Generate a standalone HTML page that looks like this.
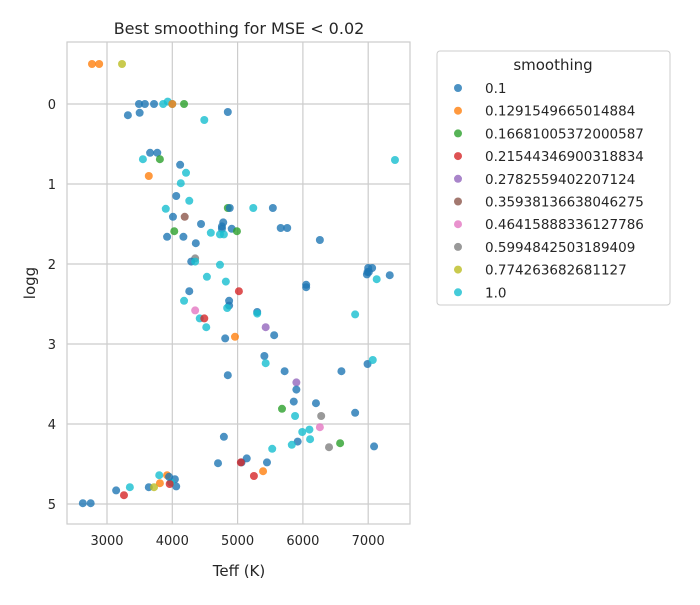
<!DOCTYPE html>
<html><head><meta charset="utf-8"><style>
body{margin:0;background:#fff;font-family:"Liberation Sans","DejaVu Sans",sans-serif}
svg text{font-family:"DejaVu Sans","Liberation Sans",sans-serif;fill:#262626}
</style></head><body>
<svg id="chart" width="700" height="600" viewBox="0 0 700 600" xmlns="http://www.w3.org/2000/svg">
<rect x="67" y="42" width="343" height="482" fill="#fff" stroke="#cccccc" stroke-width="1.2"/>
<g id="grid"></g><g id="pts"></g><g id="ticks"></g>
<text x="239" y="34" text-anchor="middle" font-size="16">Best smoothing for MSE &lt; 0.02</text>
<text x="239" y="576" text-anchor="middle" font-size="15">Teff (K)</text>
<text x="35" y="283" text-anchor="middle" font-size="15" transform="rotate(-90 35 283)">logg</text>
<g>
<rect x="437" y="51" width="233" height="254" rx="3" fill="#fff" stroke="#cccccc"/>
<text x="553" y="70" text-anchor="middle" font-size="15">smoothing</text>
<g id="leg"></g></g>
</svg>
<script>
const groups=["0.1","0.1291549665014884","0.16681005372000587","0.21544346900318834","0.2782559402207124","0.35938136638046275","0.46415888336127786","0.5994842503189409","0.774263682681127","1.0"];
const colors=["#1f77b4","#ff7f0e","#2ca02c","#d62728","#9467bd","#8c564b","#e377c2","#7f7f7f","#bcbd22","#17becf"];
const xTicks=[3000,4000,5000,6000,7000];
const yTicks=[0,1,2,3,4,5];
const teff=[2770,2880,3230,3490,3580,3720,3860,3930,4000,4000,4180,3320,3500,4850,4490,3660,3770,3550,3810,4120,4210,3640,4130,4060,4260,3900,4010,4190,4440,4850,4880,5240,5540,3920,4170,4030,4360,4590,4780,4760,4760,4730,4790,4910,4990,5660,5760,6260,4350,4290,4350,4730,4530,4820,6050,6050,7000,6990,7010,6980,7060,7130,7330,7410,5020,4260,4180,4870,4870,4840,
4350,4420,4490,4520,5300,5300,5430,5560,4810,4960,6800,5410,5430,5720,4850,6590,6990,7070,5900,5900,5860,6200,5680,5880,6280,6800,6260,5990,6100,6110,5920,5830,6400,6570,7090,4790,5530,4700,5140,5060,5050,5450,5390,5250,3800,3920,3810,4040,4060,3980,3960,3950,3640,3720,3350,3140,3260,2630,2750];
const logg=[-0.5,-0.5,-0.5,0,0,0,0,-0.03,0,0,0,0.14,0.11,0.1,0.2,0.61,0.61,0.69,0.69,0.76,0.86,0.9,0.99,1.15,1.21,1.31,1.41,1.41,1.5,1.3,1.3,1.3,1.3,1.66,1.66,1.59,1.74,1.61,1.48,1.53,1.56,1.63,1.63,1.56,1.59,1.55,1.55,1.7,1.93,1.97,1.97,2.01,2.16,2.22,2.26,2.29,2.05,2.1,2.1,2.13,2.05,2.19,2.14,0.7,2.34,2.34,2.46,2.46,2.52,2.55,
2.58,2.68,2.68,2.79,2.6,2.62,2.79,2.89,2.93,2.91,2.63,3.15,3.24,3.34,3.39,3.34,3.25,3.2,3.48,3.57,3.72,3.74,3.81,3.9,3.9,3.86,4.04,4.1,4.07,4.19,4.22,4.26,4.29,4.24,4.28,4.16,4.31,4.49,4.43,4.48,4.48,4.48,4.59,4.65,4.64,4.64,4.74,4.69,4.78,4.73,4.75,4.66,4.79,4.79,4.79,4.83,4.89,4.99,4.99];
const group=[1,1,8,0,0,0,9,9,9,1,2,0,0,0,9,0,0,9,2,0,9,1,9,0,9,9,0,5,0,2,0,9,0,0,0,2,0,9,0,0,0,9,9,0,2,0,0,0,7,0,9,9,9,9,0,0,0,0,0,0,0,9,0,9,3,0,9,0,0,9,
6,9,3,9,0,9,4,0,0,1,9,0,9,0,0,0,0,9,4,0,0,0,2,9,7,0,6,9,9,9,0,9,7,2,0,0,9,0,0,0,3,0,1,3,9,1,1,0,0,9,3,0,0,8,9,0,3,0,0];
const NS="http://www.w3.org/2000/svg";
const xs=v=>107+(v-3000)*65.3/1000, ys=v=>104+v*80;
function mk(t,a,p){const e=document.createElementNS(NS,t);for(const k in a)e.setAttribute(k,a[k]);p.appendChild(e);return e;}
const G=document.getElementById('grid'),P=document.getElementById('pts'),T=document.getElementById('ticks'),L=document.getElementById('leg');
xTicks.forEach(v=>{const l=mk('line',{x1:xs(v),x2:xs(v),y1:42,y2:524,stroke:'#cccccc','stroke-width':1.2},G);


const t=mk('text',{x:xs(v),y:545,'text-anchor':'middle','font-size':13},T);t.textContent=v;

});
yTicks.forEach(v=>{const l=mk('line',{x1:67,x2:410,y1:ys(v),y2:ys(v),stroke:'#cccccc','stroke-width':1.2},G);


const t=mk('text',{x:56,y:ys(v)+5,'text-anchor':'end','font-size':13},T);t.textContent=v;

});
teff.forEach((v,i)=>{const c=mk('circle',{cx:xs(v),cy:ys(logg[i]),r:4,fill:colors[group[i]],'fill-opacity':0.8},P);

});
groups.forEach((g,i)=>{const y=88+i*22.7;
const c=mk('circle',{cx:458,cy:y,r:4,fill:colors[i],'fill-opacity':0.8},L);


const t=mk('text',{x:485,y:y+5,'font-size':13.5},L);t.textContent=g;

});
</script>
</body></html>
